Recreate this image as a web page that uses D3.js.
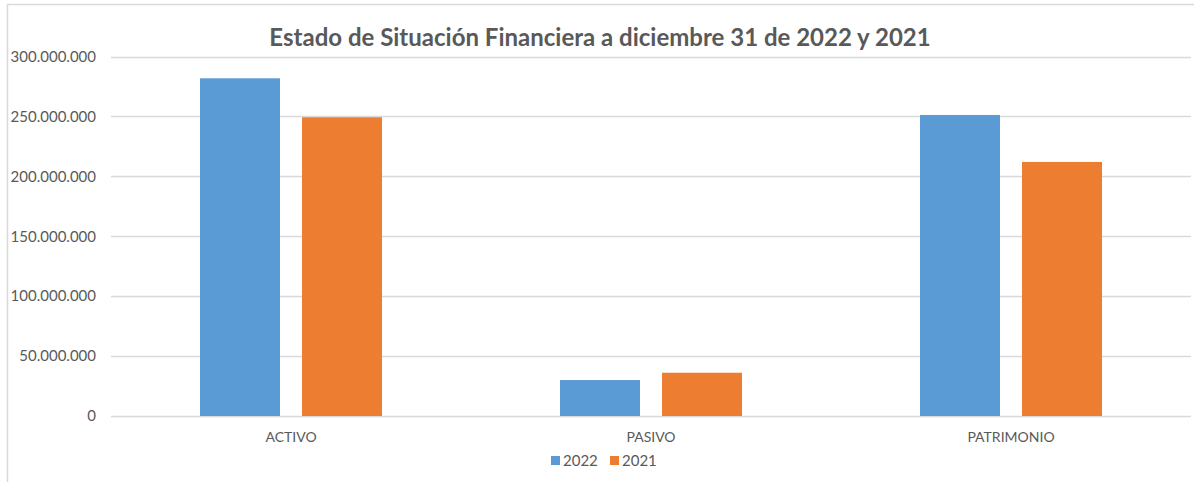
<!DOCTYPE html>
<html>
<head>
<meta charset="utf-8">
<script src="https://cdn.jsdelivr.net/npm/d3@7"></script>
<style>
  body { margin: 0; background: #fff; }
  svg { display: block; }
</style>
</head>
<body>
<div id="chart"></div>
<script>
// data
const categories = ['ACTIVO', 'PASIVO', 'PATRIMONIO'];
const series = ['2022', '2021'];
const values2022 = [281800000, 30000000, 251200000];
const values2021 = [249300000, 36100000, 212000000];
const yTicks = [0, 50000000, 100000000, 150000000, 200000000, 250000000, 300000000];
const colors = ['#5b9bd5', '#ed7d31'];

const width = 1194;
const height = 482;
const margin = { top: 56.5, right: 3, bottom: 66, left: 111 };

const svg = d3.select('#chart')
  .append('svg')
  .attr('width', width)
  .attr('height', height);

// chart frame
svg.append('rect')
  .attr('x', 7.5)
  .attr('y', 4.5)
  .attr('width', 1200)
  .attr('height', 500)
  .style('fill', 'none')
  .style('stroke', '#d9d9d9')
  .style('stroke-width', 1.5);

const x0 = d3.scaleBand()
  .domain(categories)
  .range([margin.left, width - margin.right])
  .padding(0);

const groupW = 182;
const x1 = d3.scaleBand()
  .domain(series)
  .range([0, groupW])
  .paddingInner(0.2157);

const y = d3.scaleLinear()
  .domain([0, 300000000])
  .range([height - margin.bottom, margin.top]);

const fmt = d => d3.format(',')(d).replace(/,/g, '.');

// gridlines
svg.append('g')
  .selectAll('line')
  .data(yTicks)
  .join('line')
  .attr('x1', margin.left)
  .attr('x2', width - margin.right)
  .attr('y1', d => Math.round(y(d)) + 0.5)
  .attr('y2', d => Math.round(y(d)) + 0.5)
  .style('stroke', '#d9d9d9')
  .style('stroke-width', 1.3);

// y axis labels
const yAxis = axis => axis
  .call(d3.axisLeft(y).tickValues(yTicks).tickFormat(fmt).tickSize(0).tickPadding(15))
  .call(g => g.select('.domain').remove())
  .call(g => g.selectAll('text')
    .style('font-family', 'Lato, "Open Sans", sans-serif')
    .style('font-size', '15px')
    .attr('fill', '#595959'));

svg.append('g')
  .attr('transform', `translate(${margin.left},0)`)
  .call(yAxis);

// bars
const groups = svg.append('g')
  .selectAll('g')
  .data(categories)
  .join('g')
  .attr('transform', d => `translate(${x0(d) + (x0.bandwidth() - groupW) / 2},0)`);

groups.selectAll('rect')
  .data((d, i) => [
    { key: '2022', value: values2022[i] },
    { key: '2021', value: values2021[i] }
  ])
  .join('rect')
  .attr('x', d => x1(d.key))
  .attr('width', x1.bandwidth())
  .attr('y', d => y(d.value))
  .attr('height', d => y(0) - y(d.value))
  .style('fill', (d, i) => colors[i]);

// category labels
const xAxis = axis => axis
  .call(d3.axisBottom(x0).tickSize(0).tickPadding(16))
  .call(g => g.select('.domain').remove())
  .call(g => g.selectAll('text')
    .style('font-family', 'Lato, "Open Sans", sans-serif')
    .style('font-size', '14px')
    .attr('fill', '#595959'));

svg.append('g')
  .attr('transform', `translate(0,${y(0)})`)
  .call(xAxis);

// title
svg.append('text')
  .attr('x', 600)
  .attr('y', 46)
  .attr('text-anchor', 'middle')
  .style('font-family', 'Lato, "Open Sans", sans-serif')
  .style('font-weight', 'bold')
  .style('font-size', '24px')
  .attr('fill', '#595959')
  .text('Estado de Situación Financiera a diciembre 31 de 2022 y 2021');

// legend
const legend = svg.append('g')
  .attr('transform', 'translate(551,461)');

const items = legend.selectAll('g')
  .data(series)
  .join('g')
  .attr('transform', (d, i) => `translate(${i * 59},0)`);

items.append('rect')
  .attr('x', 0)
  .attr('y', -5)
  .attr('width', 9)
  .attr('height', 9)
  .style('fill', (d, i) => colors[i]);

items.append('text')
  .attr('x', 12)
  .attr('y', 0)
  .attr('dy', '0.35em')
  .style('font-family', 'Lato, "Open Sans", sans-serif')
  .style('font-size', '15px')
  .attr('fill', '#595959')
  .text(d => d);
</script>
</body>
</html>
